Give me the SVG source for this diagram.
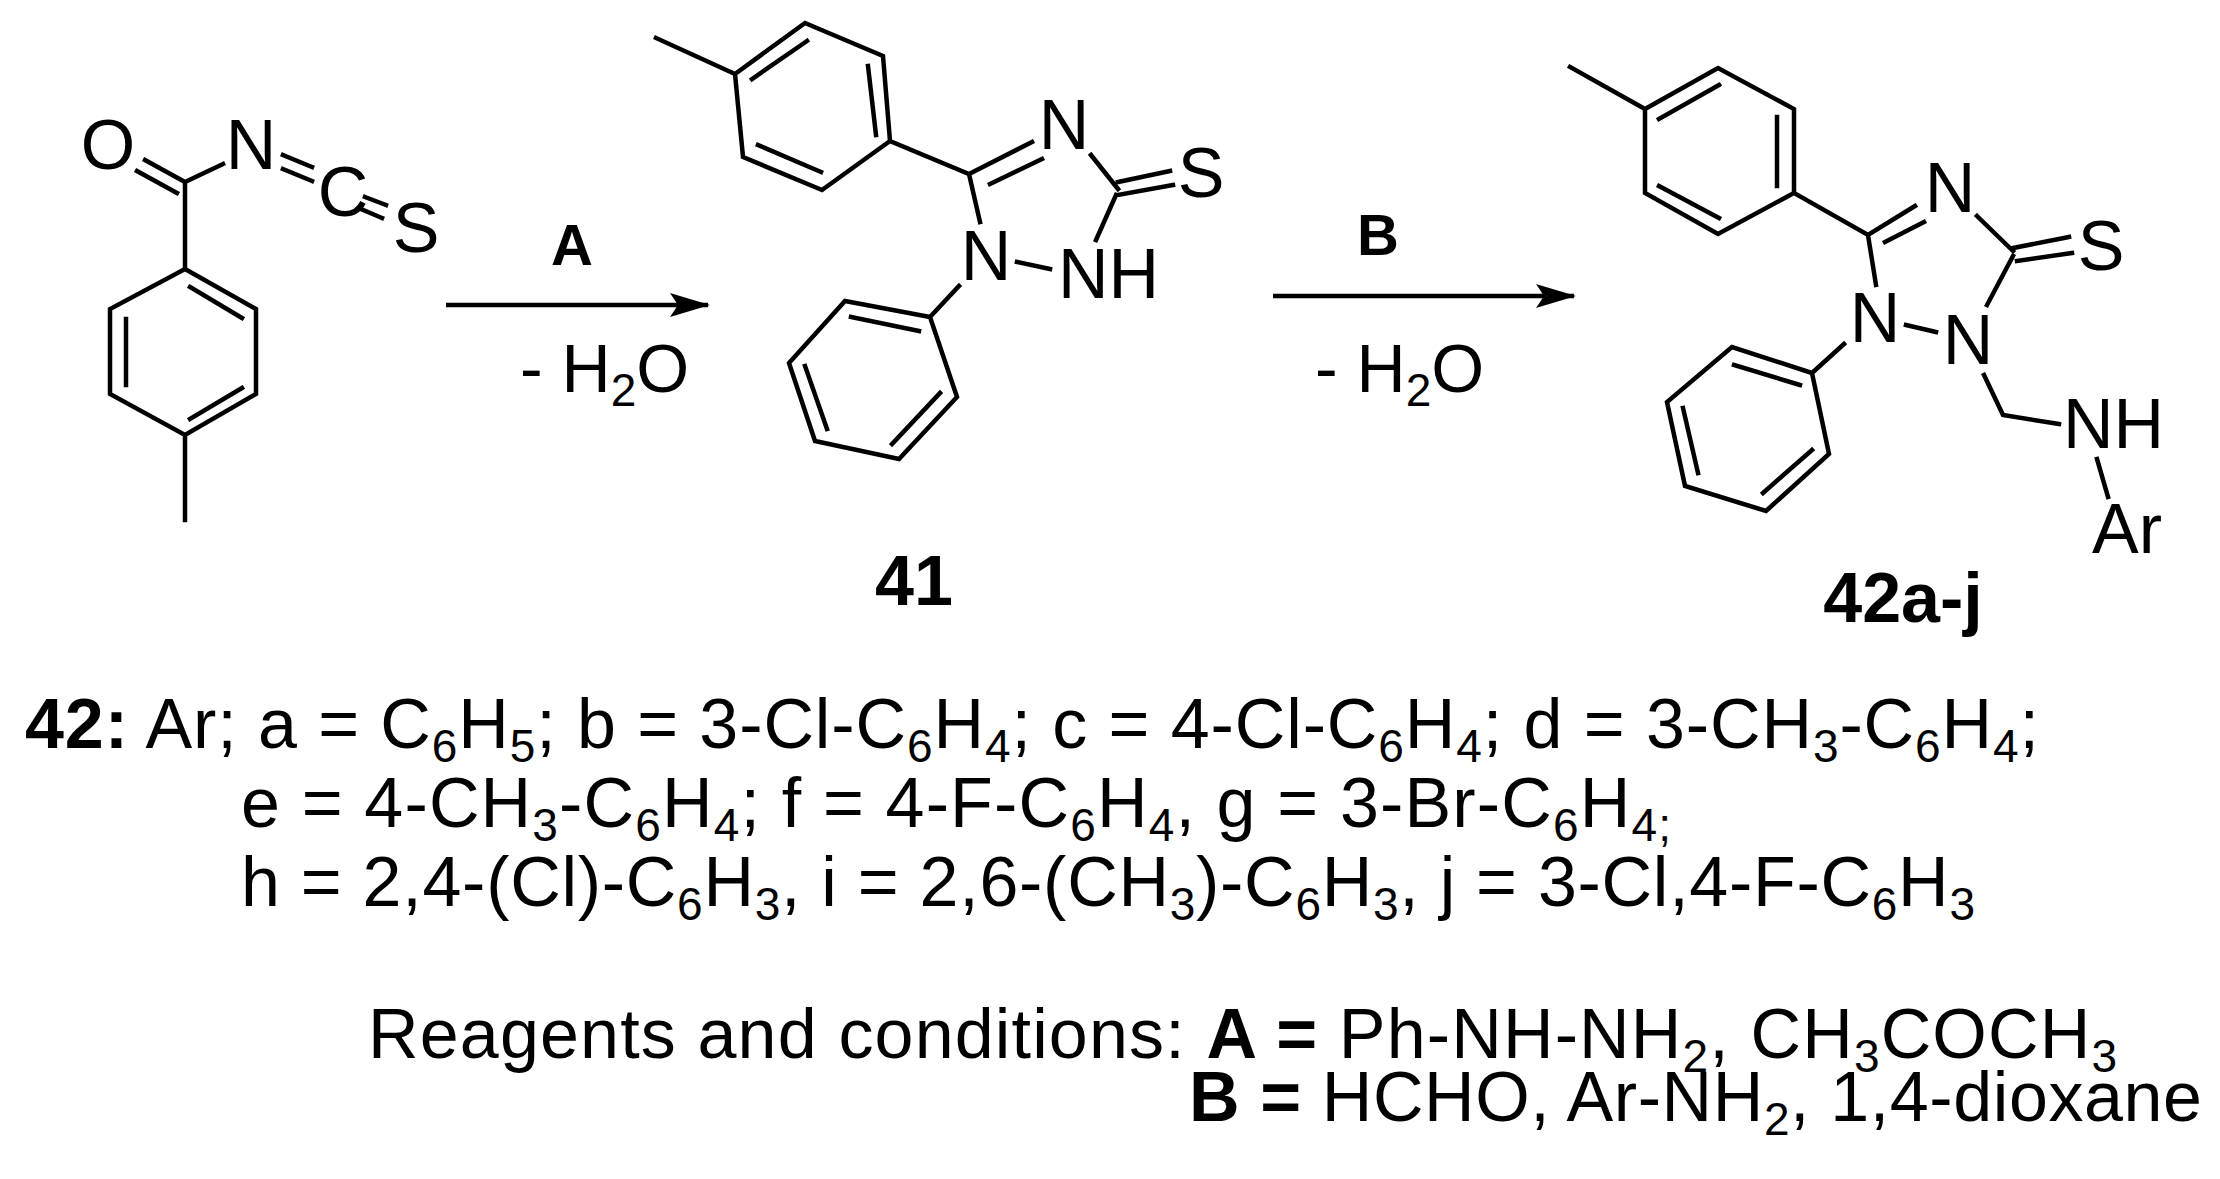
<svg xmlns="http://www.w3.org/2000/svg" width="2220" height="1179" viewBox="0 0 2220 1179">
<style>
.b{stroke:#000;stroke-width:4.5;fill:none;stroke-linecap:square}
.t{font-family:"Liberation Sans",Arial,sans-serif;font-size:70px;fill:#000}
.bd{font-weight:bold}
.m{font-family:"Liberation Sans",Arial,sans-serif;font-size:68px;fill:#000}
.l{font-family:"Liberation Sans",Arial,sans-serif;font-size:70px;fill:#000}
.s{font-size:46px}
</style>
<defs>
<marker id="ah" markerWidth="40" markerHeight="24" refX="38" refY="12" orient="auto" markerUnits="userSpaceOnUse" viewBox="0 0 40 24"><path d="M0,0 L40,12 L0,24 L8,12 Z" fill="#000"/></marker>
</defs>
<rect width="2220" height="1179" fill="#fff"/>

<g id="reactant">
<path class="b" d="M145,160 L185,182 M137,171 L177,193 M185,182 L223,164 M283,155 L312,167 M283,169 L312,181 M365,197 L386,205 M361,209 L382,218 M185,182 L185,269 M185,269 L256,309 L256,394 L185,435 L110,394 L110,309 Z M190,287 L242,318 M126,319 L126,385 M190,419 L242,388 M185,435 L185,520"/>
<text class="t" x="108" y="169" text-anchor="middle">O</text>
<text class="t" x="251" y="169" text-anchor="middle">N</text>
<text class="t" x="343" y="216" text-anchor="middle">C</text>
<text class="t" x="416" y="252" text-anchor="middle">S</text>
</g>

<g id="c41">
<path class="b" d="M656,38 L735,74 M735,74 L805,23 L883,56 L890,141 L822,190 L743,157 Z M752,79 L807,41 M868,66 L876,135 M758,145 L821,172 M890,141 L969,174 L1032,142 M990,184 L1042,159 M1091,155 L1118,189 M1118,182 L1170,171 M1118,195 L1173,185 M1116,195 L1096,240 M1017,262 L1050,269 M969,174 L980,222 M959,286 L930,317 M930,317 L845,301 L789,363 L815,441 L899,459 L957,397 Z M851,317 L919,331 M805,366 L827,429 M892,444 L940,393"/>
<text class="t" x="1064" y="149" text-anchor="middle">N</text>
<text class="t" x="1201" y="197" text-anchor="middle">S</text>
<text class="t" x="986" y="280" text-anchor="middle">N</text>
<text class="t" x="1058" y="298">NH</text>
<text class="t bd" x="914" y="605" text-anchor="middle">41</text>
</g>

<g id="c42">
<path class="b" d="M1570,67 L1645,109 M1645,109 L1718,68 L1794,109 L1794,193 L1718,234 L1645,193 Z M1659,119 L1719,85 M1777,117 L1777,186 M1659,186 L1719,218 M1794,193 L1868,235 L1915,206 M1885,242 L1924,222 M1977,216 L2013,251 M2013,248 L2069,237 M2017,261 L2072,253 M2013,256 L1987,305 M1906,325 L1936,332 M1868,235 L1876,285 M1844,344 L1812,373 M1812,373 L1732,347 L1667,402 L1685,486 L1766,511 L1829,454 Z M1734,365 L1800,385 M1683,408 L1698,473 M1763,493 L1812,450 M1984,375 L2003,415 L2059,424 M2097,459 L2108,497"/>
<text class="t" x="1950" y="212" text-anchor="middle">N</text>
<text class="t" x="2101" y="270" text-anchor="middle">S</text>
<text class="t" x="1875" y="342" text-anchor="middle">N</text>
<text class="t" x="1968" y="364" text-anchor="middle">N</text>
<text class="t" x="2063" y="448">NH</text>
<text class="t" x="2127" y="553" text-anchor="middle">Ar</text>
<text class="t bd" x="1903" y="622" text-anchor="middle">42a-j</text>
</g>

<g id="connectors">
<line class="b" x1="446" y1="305" x2="708" y2="305" marker-end="url(#ah)" style="stroke-linecap:butt"/>
<line class="b" x1="1273" y1="296" x2="1574" y2="296" marker-end="url(#ah)" style="stroke-linecap:butt"/>
</g>

<g id="labels">
<text class="m bd" x="572" y="265" text-anchor="middle" style="font-size:58px">A</text>
<text class="m" x="520" y="392">- H<tspan class="s" dy="14">2</tspan><tspan dy="-14">O</tspan></text>
<text class="m bd" x="1378" y="255" text-anchor="middle" style="font-size:58px">B</text>
<text class="m" x="1315" y="392">- H<tspan class="s" dy="14">2</tspan><tspan dy="-14">O</tspan></text>
</g>

<g id="legend">
<text class="l" x="25" y="748" textLength="2014"><tspan class="bd">42:</tspan> Ar; a = C<tspan class="s" dy="14">6</tspan><tspan dy="-14">H</tspan><tspan class="s" dy="14">5</tspan><tspan dy="-14">; b = 3-Cl-C</tspan><tspan class="s" dy="14">6</tspan><tspan dy="-14">H</tspan><tspan class="s" dy="14">4</tspan><tspan dy="-14">; c = 4-Cl-C</tspan><tspan class="s" dy="14">6</tspan><tspan dy="-14">H</tspan><tspan class="s" dy="14">4</tspan><tspan dy="-14">; d = 3-CH</tspan><tspan class="s" dy="14">3</tspan><tspan dy="-14">-C</tspan><tspan class="s" dy="14">6</tspan><tspan dy="-14">H</tspan><tspan class="s" dy="14">4</tspan><tspan dy="-14">;</tspan></text>
<text class="l" x="241" y="827" textLength="1430">e = 4-CH<tspan class="s" dy="14">3</tspan><tspan dy="-14">-C</tspan><tspan class="s" dy="14">6</tspan><tspan dy="-14">H</tspan><tspan class="s" dy="14">4</tspan><tspan dy="-14">; f = 4-F-C</tspan><tspan class="s" dy="14">6</tspan><tspan dy="-14">H</tspan><tspan class="s" dy="14">4</tspan><tspan dy="-14">, g = 3-Br-C</tspan><tspan class="s" dy="14">6</tspan><tspan dy="-14">H</tspan><tspan class="s" dy="14">4;</tspan></text>
<text class="l" x="241" y="906" textLength="1734">h = 2,4-(Cl)-C<tspan class="s" dy="14">6</tspan><tspan dy="-14">H</tspan><tspan class="s" dy="14">3</tspan><tspan dy="-14">, i = 2,6-(CH</tspan><tspan class="s" dy="14">3</tspan><tspan dy="-14">)-C</tspan><tspan class="s" dy="14">6</tspan><tspan dy="-14">H</tspan><tspan class="s" dy="14">3</tspan><tspan dy="-14">, j = 3-Cl,4-F-C</tspan><tspan class="s" dy="14">6</tspan><tspan dy="-14">H</tspan><tspan class="s" dy="14">3</tspan></text>
<text class="l" x="368" y="1058" textLength="1749">Reagents and conditions: <tspan class="bd">A =</tspan>  Ph-NH-NH<tspan class="s" dy="14">2</tspan><tspan dy="-14">, CH</tspan><tspan class="s" dy="14">3</tspan><tspan dy="-14">COCH</tspan><tspan class="s" dy="14">3</tspan></text>
<text class="l" x="1189" y="1121" textLength="1013"><tspan class="bd">B =</tspan> HCHO, Ar-NH<tspan class="s" dy="14">2</tspan><tspan dy="-14">, 1,4-dioxane</tspan></text>
</g>
</svg>
